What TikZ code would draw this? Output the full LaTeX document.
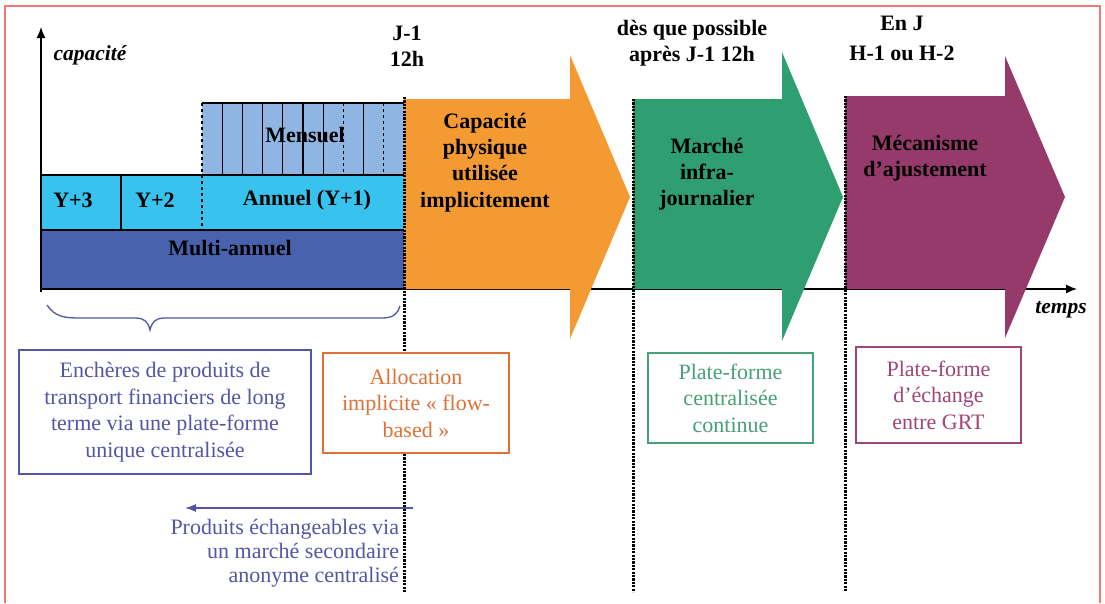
\documentclass[tikz,border=0pt]{standalone}
\usepackage{fontspec}
\setmainfont{Liberation Serif}
\usetikzlibrary{arrows.meta}

\definecolor{cadre_rouge}{HTML}{F07A7A}
\definecolor{bleu_fonce}{HTML}{4862AE}
\definecolor{cyan_clair}{HTML}{38C2EE}
\definecolor{bleu_mensuel}{HTML}{8FB5E2}
\definecolor{orange_fl}{HTML}{F39A32}
\definecolor{vert_fl}{HTML}{2F9F71}
\definecolor{violet_fl}{HTML}{963A6C}
\definecolor{bleu_txt}{HTML}{5455A6}
\definecolor{orange_txt}{HTML}{DE7236}
\definecolor{vert_txt}{HTML}{46A079}
\definecolor{violet_txt}{HTML}{9F4677}

\begin{document}
\begin{tikzpicture}[inner sep=0pt,outer sep=0pt,x=1pt,y=-1pt,
    every node/.style={font=\fontsize{22}{26.5}\selectfont},
    gras/.style={font=\fontsize{22}{26.3}\selectfont\bfseries, align=center},
    axe_lbl/.style={font=\fontsize{21.5}{22}\selectfont\bfseries\itshape},
    trait/.style={black, line width=1.2pt},
    axe/.style={black, line width=1.4pt, -{Latex[length=11pt,width=9pt]}},
    jalon/.style={black, line width=3pt, dash pattern=on 2.2pt off 1.2pt},
    boite/.style={draw, fill=white, line width=1.2pt, align=center},
    accolade/.style={bleu_txt, line width=1.3pt},
    fleche_sec/.style={bleu_txt, line width=1.3pt, -{Latex[length=11pt,width=8pt]}}]
    %
    \useasboundingbox (0,0) rectangle (1105,603);
    \draw[cadre_rouge, line width=1.5pt] (5,603) -- (5,6) -- (1100,6) -- (1100,603);

    % axes
    \coordinate (origine) at (41,292);
    \coordinate (haut_y) at (41,27);
    \coordinate (pied_x) at (41,289);
    \coordinate (fin_x) at (1077,289);
    \draw[axe] (pied_x) -- (fin_x);

    % produits de long terme
    \fill[bleu_fonce] (41,230) rectangle (404,289);
    \fill[cyan_clair] (41,175) rectangle (404,230);
    \fill[bleu_mensuel] (202,103) rectangle (404,175);
    \draw[trait] (41,289) -- (404,289);
    \draw[trait] (41,230) -- (404,230);
    \draw[trait] (41,175) -- (404,175);
    \draw[trait] (202,103) -- (404,103);
    \draw[trait] (121,175) -- (121,230);
    \draw[trait, dashed] (202,103) -- (202,230);
    \foreach \k in {1,...,6,8}
        \draw[trait] ({202+20.2*\k},103) -- ({202+20.2*\k},175);
    \foreach \k in {7,9}
        \draw[trait, dashed] ({202+20.2*\k},103) -- ({202+20.2*\k},175);
    \draw[axe] (origine) -- (haut_y);

    \node[gras] (mensuel) at (305,135) {Mensuel};
    \node[gras] (y_trois) at (73,200) {Y+3};
    \node[gras] (y_deux) at (155,200) {Y+2};
    \node[gras] (annuel) at (307,200) {Annuel (Y+1)};
    \node[gras] (multi_annuel) at (230,248) {Multi-annuel};
    \node[axe_lbl] (capacite) at (90,55) {capacité};
    \node[axe_lbl] (temps) at (1061,310) {temps};

    % grandes fleches
    \fill[orange_fl] (404,99) -- (570,99) -- (570,55) -- (630,197) -- (570,339) -- (570,289) -- (404,289) -- cycle;
    \fill[vert_fl] (633,99) -- (782,99) -- (782,52) -- (843,197) -- (782,341) -- (782,289) -- (633,289) -- cycle;
    \fill[violet_fl] (845,96) -- (1005,96) -- (1005,56) -- (1065,197) -- (1005,338) -- (1005,289) -- (845,289) -- cycle;

    \node[gras] (capa_physique) at (485,162.5) {Capacité\\physique\\utilisée\\implicitement};
    \node[gras] (infra_journalier) at (707,174) {Marché\\infra-\\journalier};
    \node[gras] (ajustement) at (925,158.5) {Mécanisme\\d’ajustement};

    % echeances
    \node[gras] (j_moins_un) at (407,46.5) {J-1\\12h};
    \node[gras] (des_que) at (692,43.5) {dès que possible\\après J-1 12h};
    \node[gras, font=\fontsize{22}{30}\selectfont\bfseries] (en_j) at (902,38) {En J\\H-1 ou H-2};

    \draw[jalon] (404,97) -- (404,592);
    \draw[jalon] (633,99) -- (633,592);
    \draw[jalon] (845,96) -- (845,592);

    % accolade
    \draw[accolade] (47,305) .. controls (55,317) and (65,318) .. (80,318) -- (135,318)
        .. controls (145,318) and (148,322) .. (150,330)
        .. controls (152,322) and (155,318) .. (165,318) -- (382,318)
        .. controls (394,318) and (398,313) .. (400,306);

    % modes d'allocation
    \node[boite, draw=bleu_txt, text=bleu_txt, minimum width=292pt, minimum height=124pt] (long_terme) at (165,412)
        {Enchères de produits de\\transport financiers de long\\terme via une plate-forme\\unique centralisée};
    \node[boite, draw=orange_txt, text=orange_txt, minimum width=186pt, minimum height=100pt] (flow_based) at (416,403)
        {Allocation\\implicite « flow-\\based »};
    \node[boite, draw=vert_txt, text=vert_txt, minimum width=165pt, minimum height=90pt] (continue) at (730.5,398)
        {Plate-forme\\centralisée\\continue};
    \node[boite, draw=violet_txt, text=violet_txt, minimum width=165pt, minimum height=96pt] (echange_grt) at (938.5,395)
        {Plate-forme\\d’échange\\entre GRT};

    % marche secondaire
    \coordinate (sec_debut) at (413,508);
    \coordinate (sec_fin) at (185,508);
    \draw[fleche_sec] (sec_debut) -- (sec_fin);
    \node[text=bleu_txt, align=right, anchor=east, font=\fontsize{22}{24}\selectfont] (secondaire) at (399,553)
        {Produits échangeables via\\un marché secondaire\\anonyme centralisé};
\end{tikzpicture}
\end{document}
